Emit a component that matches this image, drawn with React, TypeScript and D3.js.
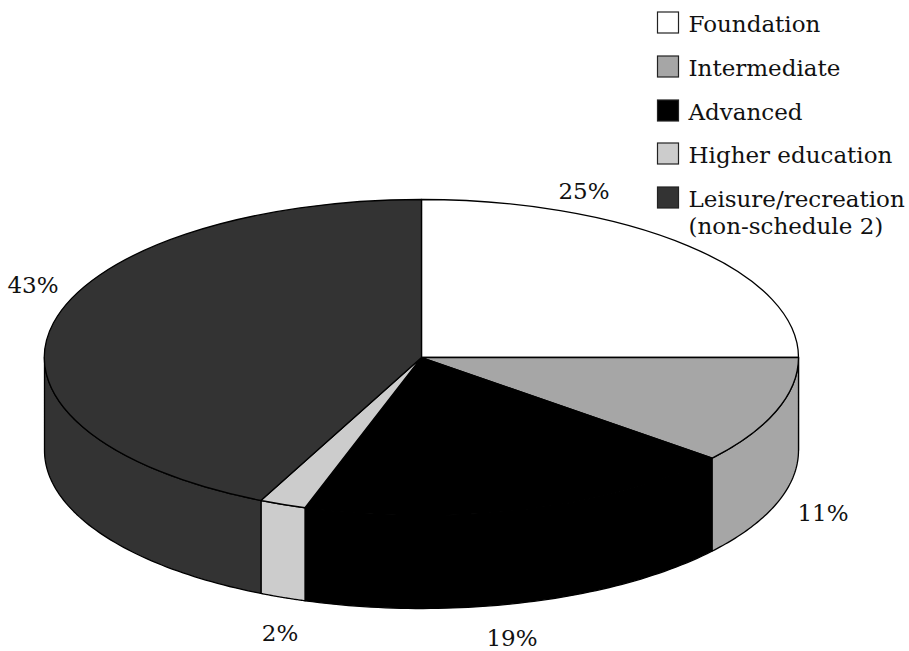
import React from "react";
import * as d3 from "d3";

const categories = ["Foundation", "Intermediate", "Advanced", "Higher education", "Leisure/recreation"];
const shares = [25, 11, 19, 2, 43];
const fills = ["#ffffff", "#a6a6a6", "#000000", "#cccccc", "#333333"];
const shareLabels = ["25%", "11%", "19%", "2%", "43%"];
const labelAnchors: [number, number][] = [[584, 199], [823, 521], [512, 646], [280, 641], [33, 293]];
const legendRows = [33, 77, 121, 164, 208];

const W = 909, H = 651;
const CX = 421.5, CY = 357.5, RX = 377, RY = 158, DEPTH = 93;

const pieLayout = d3.pie<number>().sort(null).value((d) => d);
const arcs = pieLayout(shares);
const unitArc = d3.arc<d3.PieArcDatum<number>>().innerRadius(0).outerRadius(1);
const outline = d3.line<[number, number]>();

const rimX = (a: number) => CX + RX * Math.sin(a);
const rimY = (a: number) => CY - RY * Math.cos(a);

// Wall section below the rim, for the part of a slice facing the viewer.
function wallPath(a0: number, a1: number): string | null {
  const start = Math.max(a0, Math.PI / 2);
  const end = Math.min(a1, (3 * Math.PI) / 2);
  if (end <= start) return null;
  const angles = d3.range(0, 61).map((i) => start + ((end - start) * i) / 60);
  const top = angles.map((a) => [rimX(a), rimY(a)] as [number, number]);
  const bottom = angles.map((a) => [rimX(a), rimY(a) + DEPTH] as [number, number]).reverse();
  return outline([...top, ...bottom]) + "Z";
}

const serif = "'DejaVu Serif', serif";

export default function App() {
  return (
    <svg width={W} height={H} style={{ position: "absolute", left: 0, top: 0 }} fontFamily={serif} fill="#111">
      {arcs.map((d, i) => {
        const p = wallPath(d.startAngle, d.endAngle);
        return p ? <path key={i} d={p} fill={fills[i]} stroke="#000" strokeWidth={1.3} strokeLinejoin="round" /> : null;
      })}
      <g transform={`translate(${CX},${CY}) scale(${RX},${RY})`}>
        {arcs.map((d, i) => (
          <path
            key={i}
            d={unitArc(d) as string}
            fill={fills[i]}
            stroke="#000"
            strokeWidth={1.3}
            strokeLinejoin="round"
            vectorEffect="non-scaling-stroke"
          />
        ))}
      </g>
      {shareLabels.map((t, i) => (
        <text key={t} x={labelAnchors[i][0]} y={labelAnchors[i][1]} textAnchor="middle" fontSize={23}>
          {t}
        </text>
      ))}
      {categories.map((c, i) => (
        <g key={c}>
          <rect x={657.5} y={legendRows[i] - 21} width={21} height={21} fill={fills[i]} stroke="#222" strokeWidth={1.2} />
          <text x={688.5} y={legendRows[i] - 1} fontSize={23}>
            {c}
          </text>
        </g>
      ))}
      <text x={688.5} y={234} fontSize={23}>(non-schedule 2)</text>
    </svg>
  );
}
